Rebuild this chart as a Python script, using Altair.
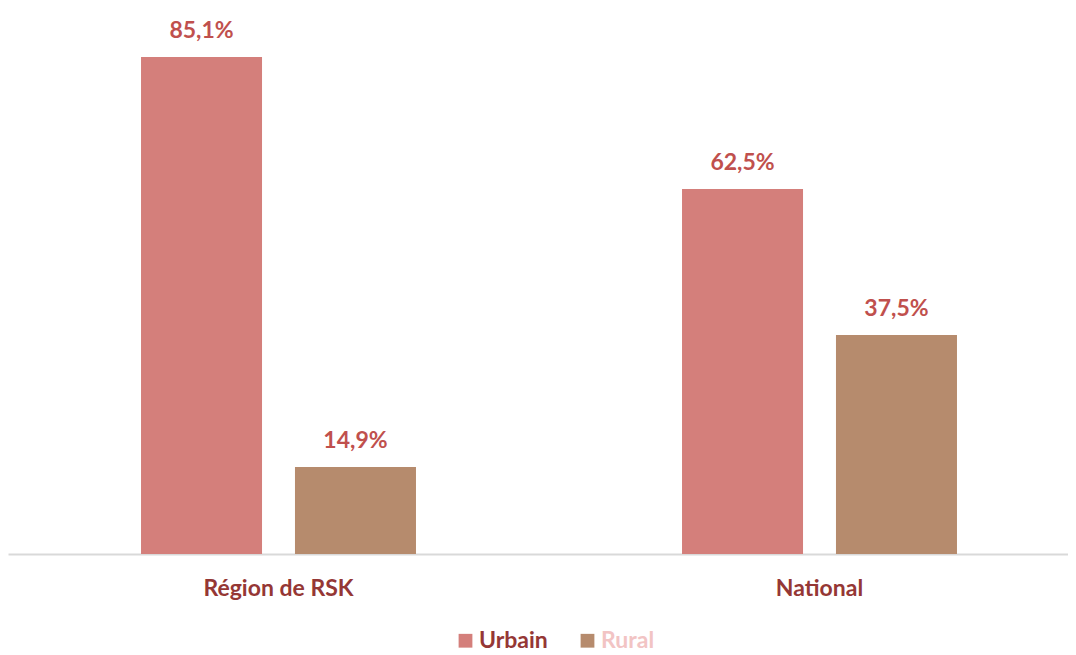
import altair as alt
import pandas as pd

categories = ["Région de RSK", "National"]
series = ["Urbain", "Rural"]
urbain = [85.1, 62.5]
rural = [14.9, 37.5]

rows = []
for i, c in enumerate(categories):
    for s, vals in (("Urbain", urbain), ("Rural", rural)):
        v = vals[i]
        rows.append({"cat": c, "serie": s, "val": v,
                     "lab": f"{v:.1f}".replace(".", ",") + "%"})
df = pd.DataFrame(rows)

FONT = "Lato"
FS = 23

x = alt.X("cat:N", sort=categories, title=None,
          scale=alt.Scale(range=[0, 1082], paddingInner=0, paddingOuter=0),
          axis=alt.Axis(labelAngle=0, ticks=False, domainColor="#D9D9D9", domainWidth=2,
                        labelFont=FONT, labelFontSize=FS, labelFontWeight="bold",
                        labelColor="#953735", labelPadding=23, grid=False))
xo = alt.XOffset("serie:N", sort=series,
                 scale=alt.Scale(paddingInner=0.214, paddingOuter=0.864))
y = alt.Y("val:Q", scale=alt.Scale(domain=[0, 93.5]), axis=None)

color = alt.Color("serie:N", sort=series, title=None,
                  scale=alt.Scale(domain=series, range=["#D47F7B", "#B68B6D"]),
                  legend=alt.Legend(orient="none", legendX=446, legendY=621,
                                    direction="horizontal",
                                    symbolType="square", symbolSize=190,
                                    symbolStrokeWidth=0,
                                    labelFont=FONT, labelFontSize=FS, labelFontWeight="bold",
                                    labelColor={"expr": "datum.label == 'Urbain' ? '#953735' : '#F2C4C4'"},
                                    columnPadding=28, labelOffset=2))

bars = alt.Chart(df).mark_bar().encode(x=x, xOffset=xo, y=y, color=color)
labels = alt.Chart(df).mark_text(font=FONT, fontSize=FS, fontWeight="bold",
                                 color="#C0504D", baseline="alphabetic", dy=-19).encode(
    x=x, xOffset=xo, y=y, text="lab:N")

chart = (bars + labels).properties(
    width=1060, height=546, background="white",
    autosize=alt.AutoSizeParams(type="none"),
    padding={"left": 0, "top": 0, "right": 0, "bottom": 99},
).configure_view(stroke=None)

chart.save("out.html", embed_options={"renderer": "svg", "actions": False})
